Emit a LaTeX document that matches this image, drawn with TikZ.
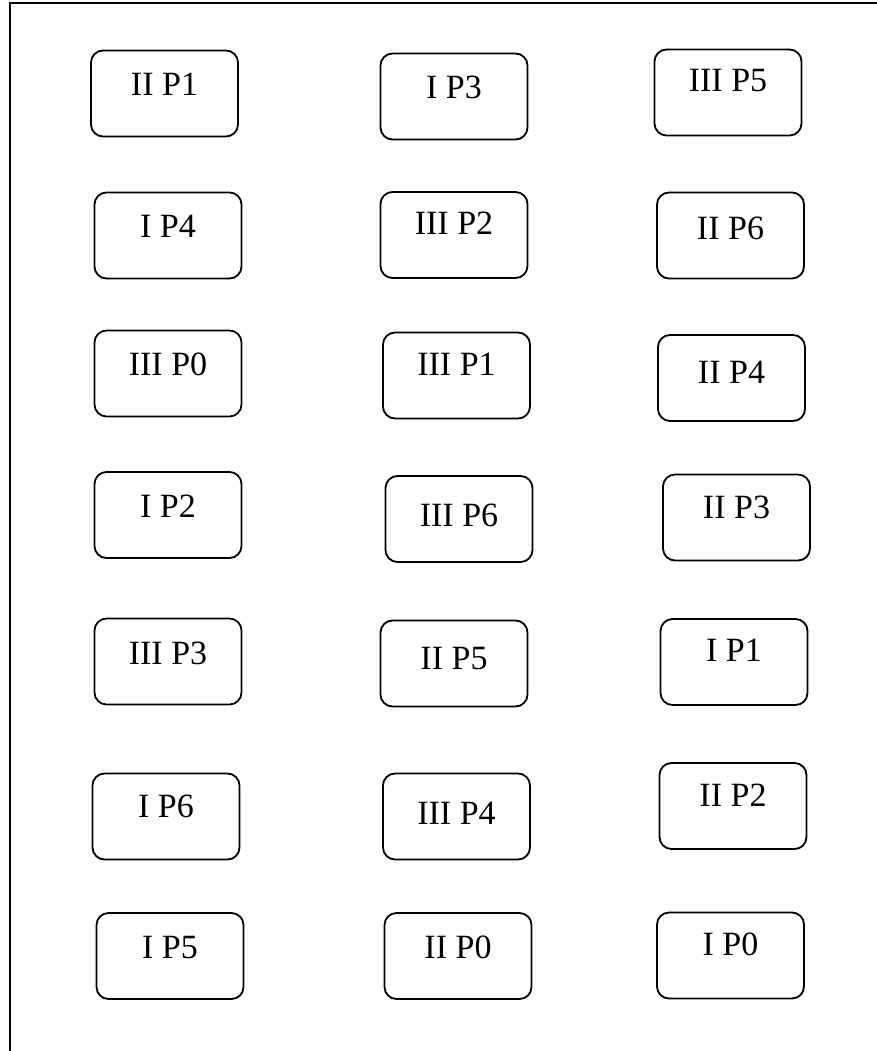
\documentclass[tikz,border=0pt]{standalone}
\usepackage{fontspec}
\setmainfont{Liberation Serif}
\usepackage{tikz}
\usetikzlibrary{positioning}

\begin{document}
\begin{tikzpicture}[
  x=1pt, y=-1pt,
  proc/.style={
    rectangle, rounded corners=12pt,
    draw=black, line width=1.8pt,
    minimum width=147pt, minimum height=86pt,
    font=\fontsize{34pt}{39pt}\selectfont,
    text height=22pt, inner sep=2pt
  },
  lift/.style={text depth=#1},
  frame/.style={draw=black, line width=2pt}
]
\useasboundingbox (0,0) rectangle (877,1051);

% outer frame
\draw[frame] (10,1051) |- (877,3);

% Row 1
\node[proc, lift=18pt] (iip1)  at (164.5,93.5) {II P1};
\node[proc, lift=17pt] (ip3)   at (454,96.5)   {I P3};
\node[proc, lift=23pt] (iiip5) at (728,92.5)   {III P5};

% Row 2
\node[proc, lift=18pt] (ip4)   at (168,235.5)  {I P4};
\node[proc, lift=23pt] (iiip2) at (454,235)    {III P2};
\node[proc, lift=15pt] (iip6)  at (730.5,235.5) {II P6};

% Row 3
\node[proc, lift=18pt] (iiip0) at (168,373.5)  {III P0};
\node[proc, lift=22pt] (iiip1) at (456.5,375.5) {III P1};
\node[proc, lift=11pt] (iip4)  at (731.5,378)  {II P4};

% Row 4
\node[proc, lift=18pt] (ip2)   at (168,515)    {I P2};
\node[proc, lift=7pt]  (iiip6) at (459,519)    {III P6};
\node[proc, lift=21pt] (iip3)  at (736.5,517.5) {II P3};

% Row 5
\node[proc, lift=17pt] (iiip3) at (168,661.5)  {III P3};
\node[proc, lift=10pt] (iip5)  at (454,663.5)  {II P5};
\node[proc, lift=23pt] (ip1)   at (734,662)    {I P1};

% Row 6
\node[proc, lift=20pt] (ip6)   at (166,816.5)  {I P6};
\node[proc, lift=7pt]  (iiip4) at (456.5,816.5) {III P4};
\node[proc, lift=21pt] (iip2)  at (733,806)    {II P2};

% Row 7
\node[proc, lift=18pt] (ip5)   at (170,956)    {I P5};
\node[proc, lift=17pt] (iip0)  at (458,956)    {II P0};
\node[proc, lift=22pt] (ip0)   at (730.5,955.5) {I P0};

\end{tikzpicture}
\end{document}
